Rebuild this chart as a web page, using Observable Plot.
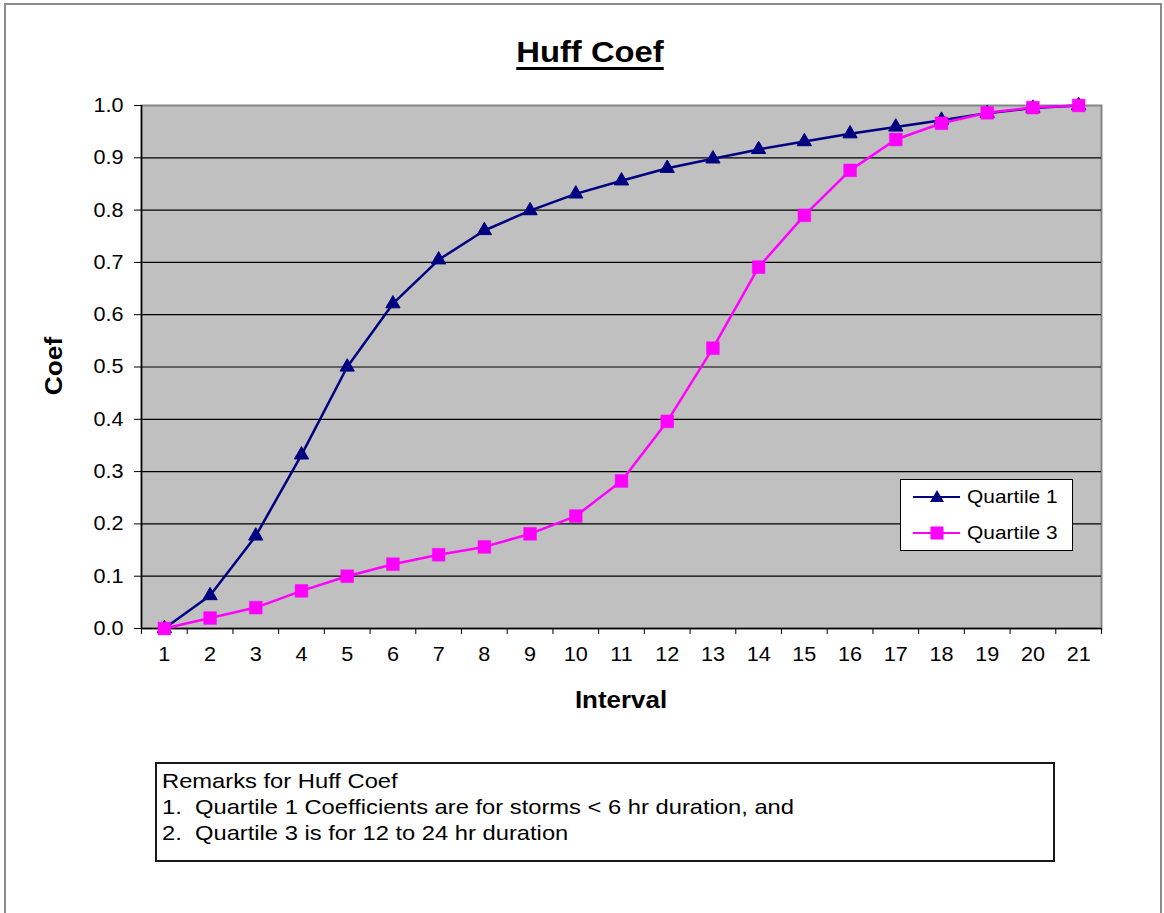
<!DOCTYPE html>
<html><head><meta charset="utf-8">
<script src="https://cdn.jsdelivr.net/npm/d3@7"></script>
<script src="https://cdn.jsdelivr.net/npm/@observablehq/plot@0.6"></script>
<style>
body{margin:0;background:#fff;font-family:"Liberation Sans",Arial,sans-serif;color:#000}
#wrap{position:relative;width:1164px;height:913px;overflow:hidden;background:#fff}
#border{position:absolute;left:4px;top:3px;width:1158px;height:940px;border:2px solid #8c8c8c;box-sizing:border-box}
#chart{position:absolute;left:0;top:0}
#chart g[aria-label$='tick label'] text{font-size:20px}
.abs{position:absolute;white-space:pre;line-height:1}
#title{left:390px;width:400px;top:38px;text-align:center;font-weight:bold;font-size:29px;text-decoration:underline;text-decoration-thickness:3px;text-underline-offset:5px;transform:scaleX(1.13)}
#xlabel{left:521px;width:200px;top:688px;text-align:center;font-weight:bold;font-size:24px;transform:scaleX(1.08)}
#ylabel{left:54px;top:366px;font-weight:bold;font-size:24px;transform:translate(-50%,-50%) scaleY(1.1) rotate(-90deg)}
#legend{position:absolute;left:900px;top:479px;width:173px;height:72px;border:1px solid #000;background:#fff;box-sizing:border-box}
#remarks{position:absolute;left:155px;top:762px;width:900px;height:100px;border:2px solid #1a1a1a;background:#fff;box-sizing:border-box}
#rtext{left:162px;top:768px;font-size:21px;line-height:26px;transform-origin:left top;transform:scaleX(1.13)}
</style>
</head><body>
<div id="wrap">
  <div id="border"></div>
  <div id="chart"></div>
  <div id="title" class="abs">Huff Coef</div>
  <div id="xlabel" class="abs">Interval</div>
  <div id="ylabel" class="abs">Coef</div>
  <div id="legend"></div>
  <div id="remarks"></div>
  <div id="rtext" class="abs"></div>
</div>
<script>
// ---- data ----
const intervals = [1, 2, 3, 4, 5, 6, 7, 8, 9, 10, 11, 12, 13, 14, 15, 16, 17, 18, 19, 20, 21];
const quartile1 = [0, 0.063, 0.177, 0.332, 0.5, 0.621, 0.705, 0.761, 0.799, 0.831, 0.856, 0.880, 0.898, 0.916, 0.931, 0.946, 0.959, 0.972, 0.985, 0.995, 1.0];
const quartile3 = [0, 0.020, 0.040, 0.072, 0.100, 0.123, 0.141, 0.156, 0.181, 0.215, 0.282, 0.396, 0.536, 0.691, 0.790, 0.876, 0.935, 0.966, 0.986, 0.996, 1.0];
const yTicks = [0, 0.1, 0.2, 0.3, 0.4, 0.5, 0.6, 0.7, 0.8, 0.9, 1.0];
const seriesNames = ["Quartile 1", "Quartile 3"];
const seriesColors = ["#000080", "#ff00ff"];
const remarks = ["Remarks for Huff Coef", "1.  Quartile 1 Coefficients are for storms < 6 hr duration, and", "2.  Quartile 3 is for 12 to 24 hr duration"];

const q1 = intervals.map((x, i) => ({x, y: quartile1[i]}));
const q3 = intervals.map((x, i) => ({x, y: quartile3[i]}));
const xDomain = [intervals[0] - 0.5, intervals[intervals.length - 1] + 0.5];
const boundaries = [...intervals.map(d => d - 0.5), xDomain[1]];

const chart = Plot.plot({
  width: 1164, height: 913,
  marginLeft: 141, marginRight: 63, marginTop: 105, marginBottom: 285,
  style: {fontFamily: "Liberation Sans, Arial, sans-serif", fontSize: "20px", color: "#000", background: "transparent"},
  x: {domain: xDomain},
  y: {domain: [0, 1]},
  marks: [
    Plot.frame({fill: "#c0c0c0", stroke: "#858585", strokeWidth: 2}),
    Plot.ruleY(yTicks.slice(1, -1), {stroke: "#000", strokeWidth: 1.2}),
    Plot.ruleY([0], {stroke: "#000", strokeWidth: 1.5}),
    Plot.ruleX([xDomain[0]], {stroke: "#000", strokeWidth: 1.5}),
    Plot.axisY({ticks: yTicks, tickSize: 7, tickPadding: 11, tickFormat: d3.format(".1f"), label: null, fontSize: 20}),
    Plot.axisX({ticks: intervals, tickSize: 0, tickPadding: 18, tickFormat: d => String(d), label: null, fontSize: 20}),
    Plot.axisX({ticks: boundaries, tickSize: 6, tickFormat: () => "", label: null}),
    Plot.line(q1, {x: "x", y: "y", stroke: seriesColors[0], strokeWidth: 2.5}),
    Plot.dot(q1, {x: "x", y: "y", symbol: "triangle", r: 5.3, fill: seriesColors[0], stroke: seriesColors[0], strokeWidth: 1}),
    Plot.line(q3, {x: "x", y: "y", stroke: seriesColors[1], strokeWidth: 2.5}),
    Plot.dot(q3, {x: "x", y: "y", symbol: "square", r: 7.2, fill: seriesColors[1], stroke: seriesColors[1], strokeWidth: 0.5})
  ]
});
document.getElementById("chart").appendChild(chart);

// widen tick label glyphs slightly to match the reference's stretched text
chart.querySelectorAll("g[aria-label$='tick label'] text").forEach(t => {
  const len = t.getComputedTextLength();
  if (len > 0) { t.setAttribute("textLength", len * 1.08); t.setAttribute("lengthAdjust", "spacingAndGlyphs"); }
});

// legend
const legend = document.getElementById("legend");
const symbolSvg = (i) => i === 0
  ? `<path d="M${-7},5 L0,-7 L7,5 Z" fill="${seriesColors[0]}"/>`
  : `<rect x="-6.5" y="-6.5" width="13" height="13" fill="${seriesColors[1]}"/>`;
legend.innerHTML = seriesNames.map((name, i) => `
  <div style="position:absolute;left:12px;top:${i === 0 ? 4 : 40}px;height:26px;display:flex;align-items:center;white-space:nowrap">
    <svg width="48" height="26" style="overflow:visible"><line x1="0" y1="13" x2="47" y2="13" stroke="${seriesColors[i]}" stroke-width="2"/><g transform="translate(24,13)">${symbolSvg(i)}</g></svg>
    <span style="font-size:19px;margin-left:6px;display:inline-block;transform-origin:left center;transform:scaleX(1.1)">${name}</span>
  </div>`).join("");

document.getElementById("rtext").textContent = remarks.join("\n");
</script>
</body></html>
